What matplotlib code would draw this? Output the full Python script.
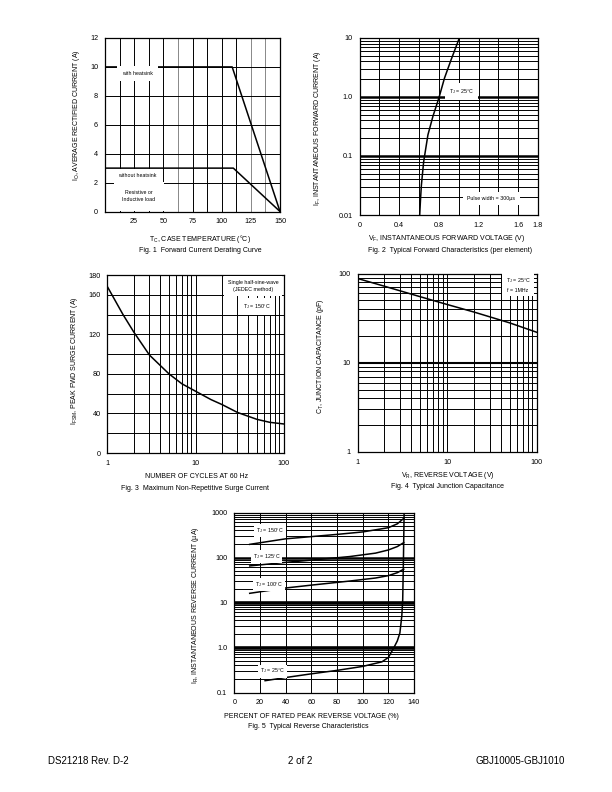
import numpy as np
import matplotlib
matplotlib.use("Agg")
import matplotlib.pyplot as plt
from matplotlib.ticker import LogLocator, NullFormatter, FixedLocator, FixedFormatter, MultipleLocator

plt.rcParams['font.family'] = ['Liberation Sans', 'DejaVu Sans']
plt.rcParams['mathtext.fontset'] = 'custom'
plt.rcParams['mathtext.rm'] = 'Liberation Sans'
plt.rcParams['mathtext.it'] = 'Liberation Sans'

# ---------------- data ----------------
# Fig 1: derating
f1_temp_hs = [0, 109, 150]
f1_cur_hs = [10, 10, 0]
f1_temp_nohs = [0, 110, 150]
f1_cur_nohs = [3, 3, 0]
f1_xticks = [25, 50, 75, 100, 125, 150]
f1_yticks = [0, 2, 4, 6, 8, 10, 12]

# Fig 2: forward characteristics
f2_vf = [0.607, 0.615, 0.624, 0.647, 0.69, 0.74, 0.80, 0.857, 0.924, 1.007]
f2_if = [0.01, 0.018, 0.032, 0.08, 0.228, 0.468, 0.957, 2.09, 4.29, 10]
f2_xticks = [0, 0.4, 0.8, 1.2, 1.6, 1.8]
f2_yticks = [0.01, 0.1, 1.0, 10]
f2_ylabels = ["0.01", "0.1", "1.0", "10"]

# Fig 3: surge current
f3_cycles = [1, 1.5, 2, 3, 5, 7, 10, 15, 20, 30, 50, 70, 100]
f3_surge = [168, 140, 122, 99, 80, 70, 62.5, 54, 49, 41, 34, 31, 29.4]
f3_yticks = [0, 40, 80, 120, 160, 180]

# Fig 4: junction capacitance
f4_vr = [1, 2, 5, 10, 20, 50, 100]
f4_cap = [88, 72, 55, 45, 37, 28, 22]

# Fig 5: reverse characteristics
f5_pct_150 = [12, 40, 81, 100, 120, 127, 132]
f5_ir_150 = [196, 260, 328, 370, 459, 560, 740]
f5_pct_125 = [12, 40, 61, 90, 110, 120, 127, 132]
f5_ir_125 = [65, 78, 88, 105, 125, 147, 175, 214]
f5_pct_100 = [12, 40, 61, 90, 110, 120, 127, 132]
f5_ir_100 = [16, 21, 24.5, 30, 35, 39.5, 46, 55]
f5_pct_25 = [24, 40, 60, 80, 100, 115, 120, 124, 127, 129, 130.5, 131.2, 131.8, 132.3]
f5_ir_25 = [0.183, 0.215, 0.26, 0.31, 0.38, 0.48, 0.6, 0.95, 1.4, 2.1, 5, 11.5, 100, 1000]
f5_yticks = [0.1, 1.0, 10, 100, 1000]
f5_ylabels = ["0.1", "1.0", "10", "100", "1000"]

W, H = 612, 792
fig = plt.figure(figsize=(W / 100, H / 100), dpi=100)

TFS = 5.2   # tick font size
LFS = 5.0   # label font size
BFS = 3.8   # box font size
GLW = 0.7
CLW = 1.1


def add_ax(l, t, r, b):
    return fig.add_axes([l / W, 1 - b / H, (r - l) / W, (b - t) / H])


def style(ax):
    for s in ax.spines.values():
        s.set_linewidth(0.9)
    ax.tick_params(which='both', length=0, labelsize=TFS, pad=5)


def ftext(x, y, s, **kw):
    fig.text(x / W, 1 - y / H, s, **kw)


def wbox(pad):
    return dict(facecolor='white', edgecolor='none', pad=pad)


# ---------------- Fig 1 ----------------
ax1 = add_ax(105, 38, 280, 211.5)
style(ax1)
ax1.set_xlim(0, 150)
ax1.set_ylim(0, 12)
for xv in np.arange(12.5, 150, 12.5):
    c = '#888888' if xv in (62.5, 125, 137.5) else 'black'
    ax1.axvline(xv, color=c, lw=GLW, zorder=1)
for yv in [2, 4, 6, 8, 10]:
    ax1.axhline(yv, color='black', lw=GLW, zorder=1)
ax1.plot(f1_temp_hs, f1_cur_hs, color='black', lw=CLW, zorder=3)
ax1.plot(f1_temp_nohs, f1_cur_nohs, color='black', lw=CLW, zorder=3)
ax1.set_xticks(f1_xticks)
ax1.set_yticks(f1_yticks)
ax1.text(28, 9.55, "with heatsink", fontsize=BFS, ha='center', va='center', bbox=wbox(3.5), zorder=4)
ax1.text(28, 2.5, "without heatsink", fontsize=BFS, ha='center', va='center', bbox=wbox(3), zorder=4)
ax1.text(29, 1.05, "Resistive or\nInductive load", fontsize=BFS, ha='center', va='center', linespacing=1.5, bbox=wbox(6), zorder=4)
ftext(76, 115, "I$_O$, AVERAGE RECTIFIED CURRENT (A)", fontsize=LFS, rotation=90, ha='center', va='center')
ftext(200, 239, "T$_C$, CASE TEMPERATURE (°C)", fontsize=LFS, ha='center', va='center')
ftext(200, 250, "Fig. 1  Forward Current Derating Curve", fontsize=LFS, ha='center', va='center')

# ---------------- Fig 2 ----------------
ax2 = add_ax(359.5, 38, 538, 215)
style(ax2)
ax2.set_yscale('log')
ax2.set_xlim(0, 1.8)
ax2.set_ylim(0.01, 10)
ax2.yaxis.set_major_locator(FixedLocator(f2_yticks))
ax2.yaxis.set_major_formatter(FixedFormatter(f2_ylabels))
ax2.yaxis.set_minor_locator(LogLocator(base=10, subs=np.arange(2, 10)))
ax2.yaxis.set_minor_formatter(NullFormatter())
ax2.set_xticks(f2_xticks)
ax2.set_xticklabels(["0", "0.4", "0.8", "1.2", "1.6", "1.8"])
ax2.xaxis.set_minor_locator(MultipleLocator(0.2))
ax2.grid(which='both', color='black', lw=GLW, zorder=1)
for yv in [0.1, 1.0]:
    ax2.axhline(yv, color='black', lw=1.8, zorder=1)
ax2.plot(f2_vf, f2_if, color='black', lw=CLW, zorder=3)
ax2.text(1.03, 1.23, "T$_J$ = 25°C", fontsize=BFS, ha='center', va='center', bbox=wbox(3), zorder=4)
ax2.text(1.33, 0.019, "Pulse width = 300µs", fontsize=BFS, ha='center', va='center', bbox=wbox(3), zorder=4)
ftext(317, 128, "I$_F$, INSTANTANEOUS FORWARD CURRENT (A)", fontsize=LFS, rotation=90, ha='center', va='center')
ftext(447, 239, "V$_F$, INSTANTANEOUS FORWARD VOLTAGE (V)", fontsize=LFS, ha='center', va='center')
ftext(450, 250, "Fig. 2  Typical Forward Characteristics (per element)", fontsize=LFS, ha='center', va='center')

# ---------------- Fig 3 ----------------
ax3 = add_ax(107.5, 275, 283.5, 453)
style(ax3)
ax3.set_xscale('log')
ax3.set_xlim(1, 100)
ax3.set_ylim(0, 180)
ax3.xaxis.set_major_locator(FixedLocator([1, 10, 100]))
ax3.xaxis.set_major_formatter(FixedFormatter(["1", "10", "100"]))
ax3.xaxis.set_minor_locator(LogLocator(base=10, subs=np.arange(2, 10)))
ax3.xaxis.set_minor_formatter(NullFormatter())
ax3.set_yticks(f3_yticks)
ax3.yaxis.set_minor_locator(MultipleLocator(20))
ax3.grid(which='both', color='black', lw=GLW, zorder=1)
ax3.plot(f3_cycles, f3_surge, color='black', lw=CLW, zorder=3)
ax3.text(45, 169, "Single half-sine-wave\n(JEDEC method)", fontsize=BFS, ha='center', va='center', linespacing=1.6, bbox=wbox(3), zorder=4)
ax3.text(50, 148, "T$_J$ = 150°C", fontsize=BFS, ha='center', va='center', bbox=wbox(3), zorder=4)
ftext(75, 361, "I$_{FSM}$, PEAK FWD SURGE CURRENT (A)", fontsize=LFS, rotation=90, ha='center', va='center')
ftext(197, 477, "NUMBER OF CYCLES AT 60 Hz", fontsize=LFS, ha='center', va='center')
ftext(195, 488, "Fig. 3  Maximum Non-Repetitive Surge Current", fontsize=LFS, ha='center', va='center')

# ---------------- Fig 4 ----------------
ax4 = add_ax(357.5, 273.5, 536.5, 452)
style(ax4)
ax4.set_xscale('log')
ax4.set_yscale('log')
ax4.set_xlim(1, 100)
ax4.set_ylim(1, 100)
for axis in (ax4.xaxis, ax4.yaxis):
    axis.set_major_locator(FixedLocator([1, 10, 100]))
    axis.set_major_formatter(FixedFormatter(["1", "10", "100"]))
    axis.set_minor_locator(LogLocator(base=10, subs=np.arange(2, 10)))
    axis.set_minor_formatter(NullFormatter())
ax4.grid(which='both', color='black', lw=GLW, zorder=1)
ax4.axhline(10, color='black', lw=1.5, zorder=1)
ax4.plot(f4_vr, f4_cap, color='black', lw=CLW, zorder=3)
ax4.text(62, 75, "T$_J$ = 25°C\nf = 1MHz", fontsize=BFS, ha='center', va='center', linespacing=1.6, bbox=wbox(2.5), zorder=4)
ftext(321, 356, "C$_T$, JUNCTION CAPACITANCE (pF)", fontsize=LFS, rotation=90, ha='center', va='center')
ftext(448, 475.5, "V$_R$, REVERSE VOLTAGE (V)", fontsize=LFS, ha='center', va='center')
ftext(448, 486.5, "Fig. 4  Typical Junction Capacitance", fontsize=LFS, ha='center', va='center')

# ---------------- Fig 5 ----------------
ax5 = add_ax(234.3, 512.5, 414, 692.5)
style(ax5)
ax5.set_yscale('log')
ax5.set_xlim(0, 140)
ax5.set_ylim(0.1, 1000)
ax5.yaxis.set_major_locator(FixedLocator(f5_yticks))
ax5.yaxis.set_major_formatter(FixedFormatter(f5_ylabels))
ax5.yaxis.set_minor_locator(LogLocator(base=10, subs=np.arange(2, 10)))
ax5.yaxis.set_minor_formatter(NullFormatter())
ax5.set_xticks(np.arange(0, 141, 20))
ax5.grid(which='both', color='black', lw=GLW, zorder=1)
for yv, lw in [(1.0, 2.6), (10, 2.6), (100, 1.8)]:
    ax5.axhline(yv, color='black', lw=lw, zorder=1)
for xs, ys in [(f5_pct_150, f5_ir_150), (f5_pct_125, f5_ir_125),
               (f5_pct_100, f5_ir_100), (f5_pct_25, f5_ir_25)]:
    ax5.plot(xs, ys, color='black', lw=CLW, zorder=3)
for xv, yv, s in [(28, 390, "T$_J$ = 150°C"), (25, 104, "T$_J$ = 125°C"),
                  (27, 25.6, "T$_J$ = 100°C"), (30, 0.3, "T$_J$ = 25°C")]:
    ax5.text(xv, yv, s, fontsize=BFS, ha='center', va='center', bbox=wbox(1.5), zorder=4)
ftext(196, 605, "I$_R$, INSTANTANEOUS REVERSE CURRENT (µA)", fontsize=LFS, rotation=90, ha='center', va='center')
ftext(311, 716, "PERCENT OF RATED PEAK REVERSE VOLTAGE (%)", fontsize=LFS, ha='center', va='center')
ftext(308, 726, "Fig. 5  Typical Reverse Characteristics", fontsize=LFS, ha='center', va='center')

# ---------------- footer ----------------
ftext(48, 761, "DS21218 Rev. D-2", fontsize=7, ha='left', va='center')
ftext(300, 761, "2 of 2", fontsize=7, ha='center', va='center')
ftext(565, 761, "GBJ10005-GBJ1010", fontsize=7, ha='right', va='center')

fig.savefig("out.png", dpi=100)
